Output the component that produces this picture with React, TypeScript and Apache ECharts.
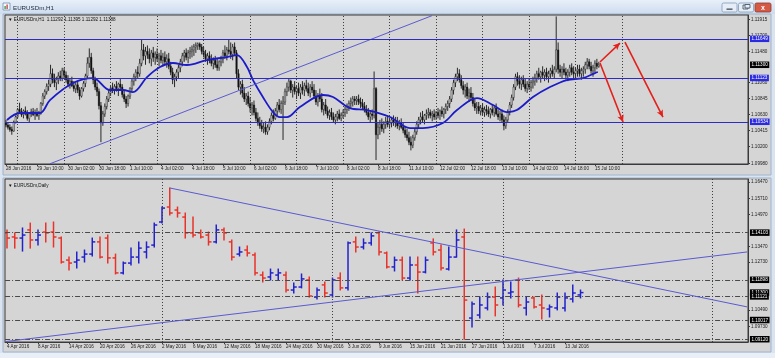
import React, { useEffect, useRef } from "react";
import * as echarts from "echarts";

const FONT = "'Liberation Sans', Arial, sans-serif";

// ---------- H1 panel (EURUSDm,H1). Prices stored as pips above 1.10000 ----------
const h1Open = [
  52,49,46,43,41,53,60,70,67,63, 68,64,58,64,67,63,66,62,65,78,
  88,94,101,104,118,110,106,110,115,112, 122,116,110,104,108,102,98,103,96,88,
  98,105,115,132,140,122,110,100,94,75, 52,64,74,84,92,99,96,101,98,104,
  100,90,84,78,88,98,108,114,120,118, 132,150,142,148,144,138,146,140,144,138,
  142,136,140,134,138,128,120,110,114,120, 126,134,142,146,140,146,148,150,154,156,
  158,154,148,144,138,142,136,132,136,130, 126,134,138,146,142,150,148,144,154,146,
  118,100,104,92,84,88,78,72,76,66, 58,52,48,44,46,40,46,54,62,58,
  68,76,70,78,80,94,100,108,96,100, 94,98,92,100,96,102,98,92,100,96,
  88,80,88,84,70,76,68,62,66,60, 56,60,64,58,62,66,70,74,78,80,
  84,82,84,80,78,74,70,66,60,64, 62,98,36,46,50,44,50,54,50,52,
  56,52,54,48,52,46,42,36,32,26, 22,32,40,50,56,60,56,62,64,66,
  62,64,60,66,62,68,64,70,74,78, 84,96,106,114,118,110,102,96,100,88,
  92,86,78,72,74,68,72,66,70,68, 64,70,66,72,64,60,64,56,48,56,
  66,76,86,100,114,108,104,110,104,98, 104,100,106,108,112,118,114,120,116,120,
  114,118,122,118,124,150,124,120,124,120, 116,120,126,120,118,122,124,118,122,124,
  130,134,128,122,126,132,128
];
const h1High = [
  56,53,50,47,55,62,72,79,72,70, 74,69,66,71,72,70,72,68,80,92,
  97,105,110,130,125,118,114,120,122,126, 126,121,116,112,114,108,106,108,100,100,
  108,118,140,152,146,126,114,106,98,80, 68,78,88,96,102,106,104,108,106,112,
  104,96,88,90,100,112,118,124,128,138, 164,158,154,156,152,150,154,148,152,146,
  150,146,148,144,146,134,126,118,124,130, 138,146,150,152,150,154,156,158,160,160,
  160,158,154,150,146,148,144,140,142,138, 136,142,150,156,154,164,160,158,160,150,
  124,108,110,100,92,94,86,80,82,72, 66,60,56,52,54,50,58,66,70,72,
  80,84,82,88,98,106,112,110,104,108, 102,106,104,108,106,110,106,104,108,104,
  96,92,98,92,80,84,74,70,72,66, 64,68,70,66,70,74,78,82,86,88,
  88,88,90,86,84,80,76,72,68,70, 121,100,52,56,58,54,60,62,58,60,
  62,60,60,56,58,52,48,44,40,34, 36,44,54,60,66,68,64,70,72,70,
  68,70,68,72,70,74,72,78,82,88, 100,110,118,126,124,116,108,104,106,98,
  100,92,84,80,80,76,78,74,76,74, 72,76,74,78,70,68,70,62,60,70,
  80,90,104,118,120,116,114,116,112,108, 112,110,114,118,122,126,122,128,124,126,
  122,126,130,128,195,160,130,128,132,126, 124,130,132,128,126,130,130,126,128,134,
  139,138,134,130,136,138,134
];
const h1Low = [
  46,43,40,36,40,51,58,64,60,58, 62,55,52,60,61,56,60,56,63,75,
  84,90,95,100,105,100,96,104,108,108, 112,106,100,98,100,94,92,92,83,86,
  94,100,112,126,118,104,96,88,70,26, 48,60,70,80,88,92,90,94,88,96,
  86,80,72,74,84,94,102,108,112,114, 128,136,130,138,132,128,134,130,134,128,
  132,128,130,126,124,116,104,100,108,112, 120,128,134,136,132,138,140,142,146,150,
  150,144,140,134,130,132,128,124,126,122, 122,128,132,138,136,144,138,136,142,112,
  96,90,86,80,76,74,66,62,62,54, 48,44,40,38,36,36,42,50,54,56,
  62,66,64,29,76,88,94,92,86,90, 84,88,84,90,88,94,88,86,92,84,
  76,74,80,66,62,64,58,56,56,52, 50,54,56,54,58,60,64,68,72,74,
  76,76,76,72,70,66,62,56,52,56, 58,2,30,36,40,38,44,46,44,46,
  48,46,44,42,44,38,32,28,22,15, 18,28,36,44,50,52,50,56,58,58,
  54,56,56,58,56,60,58,64,68,72, 80,90,100,108,106,98,90,86,84,80,
  82,74,68,64,64,62,62,60,62,60, 58,62,60,62,56,54,52,42,44,52,
  62,72,82,96,102,98,96,100,94,92, 96,94,98,102,106,110,106,112,108,110,
  106,112,114,112,120,118,114,112,116,110, 108,114,116,112,110,114,114,110,114,118,
  124,124,118,114,120,124,126
];
const h1Close = [
  49,46,43,41,53,60,70,67,63,68, 64,58,64,67,63,66,62,65,78,88,
  94,101,104,118,110,106,110,115,112,122, 116,110,104,108,102,98,103,96,88,98,
  105,115,132,140,122,110,100,94,75,52, 64,74,84,92,99,96,101,98,104,100,
  90,84,78,88,98,108,114,120,118,132, 150,142,148,144,138,146,140,144,138,142,
  136,140,134,138,128,120,110,114,120,126, 134,142,146,140,146,148,150,154,156,158,
  154,148,144,138,142,136,132,136,130,126, 134,138,146,142,150,148,144,154,146,118,
  100,104,92,84,88,78,72,76,66,58, 52,48,44,46,40,46,54,62,58,68,
  76,70,78,80,94,100,108,96,100,94, 98,92,100,96,102,98,92,100,96,88,
  80,88,84,70,76,68,62,66,60,56, 60,64,58,62,66,70,74,78,80,84,
  82,84,80,78,74,70,66,60,64,62, 98,36,46,50,44,50,54,50,52,56,
  52,54,48,52,46,42,36,32,26,22, 32,40,50,56,60,56,62,64,66,62,
  64,60,66,62,68,64,70,74,78,84, 96,106,114,118,110,102,96,100,88,92,
  86,78,72,74,68,72,66,70,68,64, 70,66,72,64,60,64,56,48,56,66,
  76,86,100,114,108,104,110,104,98,104, 100,106,108,112,118,114,120,116,120,114,
  118,122,118,124,150,124,120,124,120,116, 120,126,120,118,122,124,118,122,124,130,
  134,128,122,126,132,128,130
];
// moving average: bar position and pips
const h1MaIdx = [0.5,7.2,17.5,22.7,34.6,44.9,53.7,60.4,65.5,72.8,79.5,86.2,93.4,103.7,114.1,119.2,124.4,127.5,132.6,137.8,141.4,145.0,151.7,163.6,168.8,177.5,186.3,198.2,208.5,215.2,225.5,232.8,243.1,251.4,258.6,263.7,272.0,280.8,289.5,297.8,304.0,305.5];
const h1MaPips = [55.8,65.2,65.2,82.6,105.5,112.2,96.1,96.1,93.4,113.5,127.0,132.4,129.7,136.4,140.4,143.1,127.0,109.5,86.7,66.5,59.8,59.8,73.2,89.4,86.7,71.9,69.2,59.8,45.0,45.0,51.7,69.2,85.3,75.9,66.5,69.2,86.7,100.1,109.5,112.2,118.9,120.3];

const h1LabelIdx = [0,16,32,48,64,80,96,112,128,144,160,176,192,208,224,240,256,272,288,304];
const h1LabelText = ["28 Jun 2016","29 Jun 10:00","30 Jun 02:00","30 Jun 18:00","1 Jul 10:00","4 Jul 02:00","4 Jul 18:00","5 Jul 10:00","6 Jul 02:00","6 Jul 18:00","7 Jul 10:00","8 Jul 02:00","8 Jul 18:00","11 Jul 10:00","12 Jul 02:00","12 Jul 18:00","13 Jul 10:00","14 Jul 02:00","14 Jul 18:00","15 Jul 10:00"];
const h1DayIdx = [6,30,54,78,102,126,150,174,198,222,246,270,294,318];
const h1AxisValues = [1.11915,1.117,1.1148,1.1106,1.10845,1.1063,1.10415,1.102,1.0998];
const h1Lines = [1.11649,1.11123,1.10534];
const h1Bid = 1.113;
const h1Trend = [[22.7,-3],[219.9,196]];
const h1Arrows = [
  [[306.6,133.7],[316.9,159.2]],
  [[306.6,132.4],[318.5,53.1]],
  [[319.5,160.6],[339.1,59.8]],
];
const h1Header = "EURUSDm,H1  1.11292 1.11395 1.11292 1.11388";

// ---------- Daily panel (EURUSDm,Daily) ----------
const dOpen = [
  1.1409,1.1390,1.1385,1.1423,1.1376,1.1413,1.1413,1.1385,1.1282,1.1273,
  1.1296,1.1310,1.1367,1.1385,1.1292,1.1222,1.1268,1.1296,1.1320,1.1352,
  1.1460,1.1530,1.1516,1.1483,1.1409,1.1409,1.1399,1.1367,1.1423,1.1367,
  1.1310,1.1329,1.1306,1.1212,1.1203,1.1212,1.1212,1.1142,1.1156,1.1189,
  1.1109,1.1166,1.1119,1.1198,1.1152,1.1367,1.1343,1.1362,1.1409,1.1315,
  1.1250,1.1282,1.1198,1.1259,1.1226,1.1362,1.1329,1.1240,1.1296,1.1390,
  1.1011,1.1025,1.1058,1.1109,1.1105,1.1128,1.1189,1.1058,1.1105,1.1072,
  1.1053,1.1058,1.1058,1.1100,1.1119
];
const dHigh = [
  1.1423,1.1409,1.1432,1.1455,1.1423,1.1455,1.1460,1.1390,1.1296,1.1320,
  1.1329,1.1385,1.1390,1.1399,1.1310,1.1273,1.1338,1.1367,1.1367,1.1455,
  1.1530,1.1619,1.1530,1.1502,1.1483,1.1423,1.1413,1.1446,1.1432,1.1376,
  1.1343,1.1348,1.1315,1.1226,1.1240,1.1240,1.1226,1.1175,1.1217,1.1203,
  1.1152,1.1180,1.1198,1.1222,1.1367,1.1390,1.1381,1.1409,1.1413,1.1320,
  1.1296,1.1296,1.1296,1.1296,1.1296,1.1381,1.1352,1.1343,1.1423,1.1427,
  1.1086,1.1109,1.1128,1.1156,1.1189,1.1180,1.1198,1.1109,1.1109,1.1119,
  1.1072,1.1128,1.1128,1.1166,1.1142
];
const dLow = [
  1.1338,1.1338,1.1324,1.1338,1.1352,1.1367,1.1343,1.1268,1.1236,1.1245,
  1.1273,1.1301,1.1292,1.1268,1.1217,1.1217,1.1259,1.1268,1.1292,1.1343,
  1.1455,1.1493,1.1483,1.1385,1.1390,1.1385,1.1352,1.1362,1.1376,1.1282,
  1.1301,1.1301,1.1212,1.1180,1.1189,1.1189,1.1133,1.1128,1.1152,1.1109,
  1.1100,1.1109,1.1109,1.1142,1.1142,1.1320,1.1334,1.1352,1.1306,1.1245,
  1.1231,1.1189,1.1189,1.1128,1.1222,1.1306,1.1236,1.1236,1.1296,1.0912,
  1.0969,1.1011,1.1049,1.1021,1.1072,1.1105,1.1063,1.1025,1.1058,1.1007,
  1.1016,1.1049,1.1044,1.1086,1.1105
];
const dClose = [
  1.1385,1.1385,1.1399,1.1376,1.1399,1.1409,1.1390,1.1273,1.1268,1.1282,
  1.1310,1.1367,1.1296,1.1292,1.1222,1.1268,1.1296,1.1338,1.1343,1.1446,
  1.1525,1.1502,1.1502,1.1409,1.1399,1.1390,1.1367,1.1423,1.1409,1.1296,
  1.1320,1.1315,1.1222,1.1198,1.1222,1.1222,1.1142,1.1156,1.1194,1.1114,
  1.1142,1.1128,1.1189,1.1152,1.1362,1.1343,1.1362,1.1395,1.1320,1.1250,
  1.1282,1.1198,1.1259,1.1226,1.1282,1.1320,1.1245,1.1296,1.1376,1.1095,
  1.1077,1.1072,1.1109,1.1072,1.1142,1.1133,1.1072,1.1086,1.1063,1.1058,
  1.1063,1.1109,1.1105,1.1128,1.1130
];
const dLabelIdx = [0,4,8,12,16,20,24,28,32,36,40,44,48,52,56,60,64,68,72];
const dLabelText = ["4 Apr 2016","8 Apr 2016","14 Apr 2016","20 Apr 2016","26 Apr 2016","2 May 2016","6 May 2016","12 May 2016","18 May 2016","24 May 2016","30 May 2016","3 Jun 2016","9 Jun 2016","15 Jun 2016","21 Jun 2016","27 Jun 2016","1 Jul 2016","7 Jul 2016","13 Jul 2016"];
const dMonthIdx = [20,42,64,91];
const dAxisValues = [1.1647,1.1571,1.1497,1.1347,1.1273,1.1049,1.0973];
const dLines = [1.14103,1.11898,1.11121,1.10017,1.0912];
const dBid = 1.113;
const dTrends = [
  [[21,1.1619],[95.5,1.1063]],
  [[-0.2,1.0901],[95.5,1.132]],
];

const pip = (v: number) => 1.1 + v / 10000;

// axis extents (plot areas)
const H1_X = [-0.516, 383.0];
const H1_Y = [1.09967, 1.11969];
const D_X = [-0.258, 95.61];
const D_Y = [1.0899, 1.1661];

export default function App() {
  const ref = useRef<HTMLDivElement>(null);
  useEffect(() => {
    if (!ref.current) return;
    const chart = echarts.init(ref.current, null, { renderer: "svg" });

    const h1Data = h1Open.map((o, i) => [i, pip(o), pip(h1High[i]), pip(h1Low[i]), pip(h1Close[i])]);
    const dData = dOpen.map((o, i) => [i, o, dHigh[i], dLow[i], dClose[i]]);
    const maData = h1MaIdx.map((x, k) => [x, pip(h1MaPips[k])]);

    const tag = (text: string, bg: string) => ({
      show: true, position: "end", formatter: text, color: "#fff", backgroundColor: bg,
      fontSize: 4.6, fontFamily: FONT, padding: [1, 1.5, 0.5, 1.5], distance: 2,
    });
    const noLabel = () => ({ show: false });
    const dotted = () => ({ color: "#3c3c3c", width: 1, type: [1, 2] });

    const host = (xi: number, items: any[], z = 2) => ({
      type: "line", xAxisIndex: xi, yAxisIndex: xi, data: [], silent: true, z,
      markLine: { silent: true, symbol: ["none", "none"], animation: false, data: items },
    });
    // horizontal level drawn as a pair of coords spanning the plot
    const level = (xr: number[], v: number, lineStyle: any, label: any) => [
      { coord: [xr[0] + 0.01, v], lineStyle, label },
      { coord: [xr[1] - 0.01, v] },
    ];
    const vline = (yr: number[], x: number) => [
      { coord: [x, yr[0] + 1e-6], lineStyle: dotted(), label: noLabel() },
      { coord: [x, yr[1] - 1e-6] },
    ];

    const candleItem = (params: any, api: any) => {
      const x = api.value(0), o = api.value(1), h = api.value(2), l = api.value(3), c = api.value(4);
      const ph = api.coord([x, h]), pl = api.coord([x, l]), po = api.coord([x, o]), pc = api.coord([x, c]);
      const top = Math.min(po[1], pc[1]);
      const bh = Math.max(Math.abs(po[1] - pc[1]), 0.8);
      return {
        type: "group",
        children: [
          { type: "line", shape: { x1: ph[0], y1: ph[1], x2: pl[0], y2: pl[1] }, style: { stroke: "#151515", lineWidth: 0.9 } },
          { type: "rect", shape: { x: ph[0] - 0.75, y: top, width: 1.5, height: bh }, style: { fill: c >= o ? "#c8c8c8" : "#111", stroke: "#151515", lineWidth: 0.4 } },
        ],
      };
    };

    const ohlcItem = (params: any, api: any) => {
      const x = api.value(0), o = api.value(1), h = api.value(2), l = api.value(3), c = api.value(4);
      const ph = api.coord([x, h]), pl = api.coord([x, l]), po = api.coord([x, o]), pc = api.coord([x, c]);
      const col = c >= o ? "#2222cc" : "#e8332a";
      const st = { stroke: col, lineWidth: 1.5 };
      return {
        type: "group",
        children: [
          { type: "line", shape: { x1: ph[0], y1: ph[1] - 0.5, x2: pl[0], y2: pl[1] + 0.5 }, style: st },
          { type: "line", shape: { x1: po[0] - 3, y1: po[1], x2: po[0], y2: po[1] }, style: st },
          { type: "line", shape: { x1: pc[0], y1: pc[1], x2: pc[0] + 3, y2: pc[1] }, style: st },
        ],
      };
    };

    const axisText = { fontSize: 4.6, fontFamily: FONT, color: "#202020" };
    const hidden = { color: "rgba(0,0,0,0)", width: 0 };

    const option: any = {
      animation: false,
      graphic: [
        { type: "rect", z: -20, shape: { x: 0, y: 0, width: 775, height: 358 }, style: { fill: "#d9e4f0" } },
        { type: "rect", z: -19, shape: { x: 0, y: 0, width: 775, height: 14 },
          style: { fill: new echarts.graphic.LinearGradient(0, 0, 0, 1, [{ offset: 0, color: "#e8f0f9" }, { offset: 1, color: "#cddcee" }]) } },
        { type: "rect", z: -18, shape: { x: 3, y: 14, width: 768, height: 161 }, style: { fill: "#d5d5d5", stroke: "#9fb4cc", lineWidth: 1 } },
        { type: "rect", z: -18, shape: { x: 3, y: 178, width: 768, height: 174 }, style: { fill: "#d5d5d5", stroke: "#9fb4cc", lineWidth: 1 } },
        { type: "rect", z: -17, shape: { x: 0, y: 353, width: 775, height: 5 }, style: { fill: "#e9eff6" } },
        { type: "rect", z: 50, shape: { x: 3, y: 3, width: 7, height: 7 }, style: { fill: "#f4f7fb", stroke: "#6f8fb5", lineWidth: 0.8 } },
        { type: "rect", z: 51, shape: { x: 4.5, y: 6, width: 1.2, height: 3 }, style: { fill: "#2a8a2a" } },
        { type: "rect", z: 51, shape: { x: 6.5, y: 4.5, width: 1.2, height: 4.5 }, style: { fill: "#c03030" } },
        { type: "text", z: 50, x: 13, y: 7, style: { text: "EURUSDm,H1", fontSize: 6.2, fontFamily: FONT, fill: "#1c2a3a", verticalAlign: "middle" } },
        { type: "rect", z: 50, shape: { x: 722, y: 3, width: 15, height: 9, r: 1.5 }, style: { fill: "#e6edf6", stroke: "#8199b6", lineWidth: 0.8 } },
        { type: "rect", z: 51, shape: { x: 726.5, y: 8.5, width: 6, height: 1.3 }, style: { fill: "#3a4a5e" } },
        { type: "rect", z: 50, shape: { x: 738.5, y: 3, width: 15, height: 9, r: 1.5 }, style: { fill: "#e6edf6", stroke: "#8199b6", lineWidth: 0.8 } },
        { type: "rect", z: 51, shape: { x: 743, y: 5, width: 5, height: 4 }, style: { fill: "none", stroke: "#3a4a5e", lineWidth: 0.8 } },
        { type: "rect", z: 51, shape: { x: 745, y: 4.5, width: 5, height: 3.5 }, style: { fill: "#e6edf6", stroke: "#3a4a5e", lineWidth: 0.8 } },
        { type: "rect", z: 50, shape: { x: 755, y: 3, width: 16, height: 9, r: 1.5 }, style: { fill: "#d45a45", stroke: "#8e3b2e", lineWidth: 0.8 } },
        { type: "text", z: 51, x: 763, y: 7.6, style: { text: "x", fontSize: 7, fontWeight: "bold", fontFamily: FONT, fill: "#ffffff", align: "center", verticalAlign: "middle" } },
        { type: "text", z: 50, x: 8, y: 19, style: { text: "▼ " + h1Header, fontSize: 4.6, fontFamily: FONT, fill: "#101010", verticalAlign: "middle" } },
        { type: "text", z: 50, x: 8, y: 185, style: { text: "▼ EURUSDm,Daily", fontSize: 4.6, fontFamily: FONT, fill: "#101010", verticalAlign: "middle" } },
      ],
      grid: [
        { left: 5, top: 15, width: 743, height: 149, show: true, borderColor: "#3a3a3a", borderWidth: 1, backgroundColor: "transparent" },
        { left: 5, top: 179, width: 743, height: 163, show: true, borderColor: "#3a3a3a", borderWidth: 1, backgroundColor: "transparent" },
      ],
      xAxis: [
        {
          type: "value", gridIndex: 0, min: H1_X[0], max: H1_X[1],
          axisLine: { show: true, onZero: false, lineStyle: { color: "#3a3a3a" } },
          axisTick: { show: true, customValues: h1LabelIdx, length: 2, lineStyle: { color: "#3a3a3a" } },
          axisLabel: { ...axisText, customValues: h1LabelIdx, align: "left", margin: 2,
            formatter: (v: number) => h1LabelText[h1LabelIdx.indexOf(v)] ?? "" },
          splitLine: { show: false },
        },
        {
          type: "value", gridIndex: 1, min: D_X[0], max: D_X[1],
          axisLine: { show: true, onZero: false, lineStyle: { color: "#3a3a3a" } },
          axisTick: { show: true, customValues: dLabelIdx, length: 2, lineStyle: { color: "#3a3a3a" } },
          axisLabel: { ...axisText, customValues: dLabelIdx, align: "left", margin: 2,
            formatter: (v: number) => dLabelText[dLabelIdx.indexOf(v)] ?? "" },
          splitLine: { show: false },
        },
      ],
      yAxis: [
        {
          type: "value", gridIndex: 0, position: "right", min: H1_Y[0], max: H1_Y[1], scale: true,
          axisLine: { show: true, onZero: false, lineStyle: { color: "#3a3a3a" } },
          axisTick: { show: true, customValues: h1AxisValues, length: 2, lineStyle: { color: "#3a3a3a" } },
          axisLabel: { ...axisText, customValues: h1AxisValues, margin: 3, formatter: (v: number) => v.toFixed(5) },
          splitLine: { show: false },
        },
        {
          type: "value", gridIndex: 1, position: "right", min: D_Y[0], max: D_Y[1], scale: true,
          axisLine: { show: true, onZero: false, lineStyle: { color: "#3a3a3a" } },
          axisTick: { show: true, customValues: dAxisValues, length: 2, lineStyle: { color: "#3a3a3a" } },
          axisLabel: { ...axisText, customValues: dAxisValues, margin: 3, formatter: (v: number) => v.toFixed(5) },
          splitLine: { show: false },
        },
      ],
      series: [
        // H1 panel
        host(0, h1DayIdx.map((v) => vline(H1_Y, v))),
        host(0, [[
          { coord: [h1Trend[0][0], pip(h1Trend[0][1])], lineStyle: { color: "#5a5ad0", width: 1, type: "solid" }, label: noLabel() },
          { coord: [h1Trend[1][0], pip(h1Trend[1][1])] },
        ]]),
        {
          type: "custom", xAxisIndex: 0, yAxisIndex: 0, data: h1Data, renderItem: candleItem,
          encode: { x: 0, y: [1, 2, 3, 4] }, clip: true, silent: true, z: 3,
        },
        {
          type: "line", xAxisIndex: 0, yAxisIndex: 0, data: maData, smooth: 0.35, showSymbol: false, silent: true, z: 4,
          lineStyle: { color: "#1b1bc8", width: 1.8 },
        },
        host(0, h1Lines.map((v) => level(H1_X, v, { color: "#2c2cc4", width: 1, type: "solid" }, tag(v.toFixed(5), "#2a2ae0"))), 5),
        host(0, [level(H1_X, h1Bid, hidden, tag(h1Bid.toFixed(5), "#000000"))], 6),
        host(0, h1Arrows.map((a) => [
          { coord: [a[0][0], pip(a[0][1])], symbol: "none", lineStyle: { color: "#e3201b", width: 1.6, type: "solid" }, label: noLabel() },
          { coord: [a[1][0], pip(a[1][1])], symbol: "arrow", symbolSize: [5, 7] },
        ]), 6),
        // Daily panel
        host(1, dMonthIdx.map((v) => vline(D_Y, v))),
        host(1, [level(D_X, dBid, hidden, tag(dBid.toFixed(5), "#000000"))], 4),
        host(1, dLines.map((v) => level(D_X, v, { color: "#4a4a4a", width: 1, type: [5, 2, 1, 2] }, tag(v.toFixed(5), "#000000"))), 5),
        host(1, dTrends.map((t) => [
          { coord: t[0], lineStyle: { color: "#5a5ad0", width: 1, type: "solid" }, label: noLabel() },
          { coord: t[1] },
        ])),
        {
          type: "custom", xAxisIndex: 1, yAxisIndex: 1, data: dData, renderItem: ohlcItem,
          encode: { x: 0, y: [1, 2, 3, 4] }, clip: true, silent: true, z: 3,
        },
      ],
    };
    chart.setOption(option);
    return () => chart.dispose();
  }, []);
  return <div ref={ref} style={{ position: "fixed", left: 0, top: 0, width: 775, height: 358 }} />;
}
